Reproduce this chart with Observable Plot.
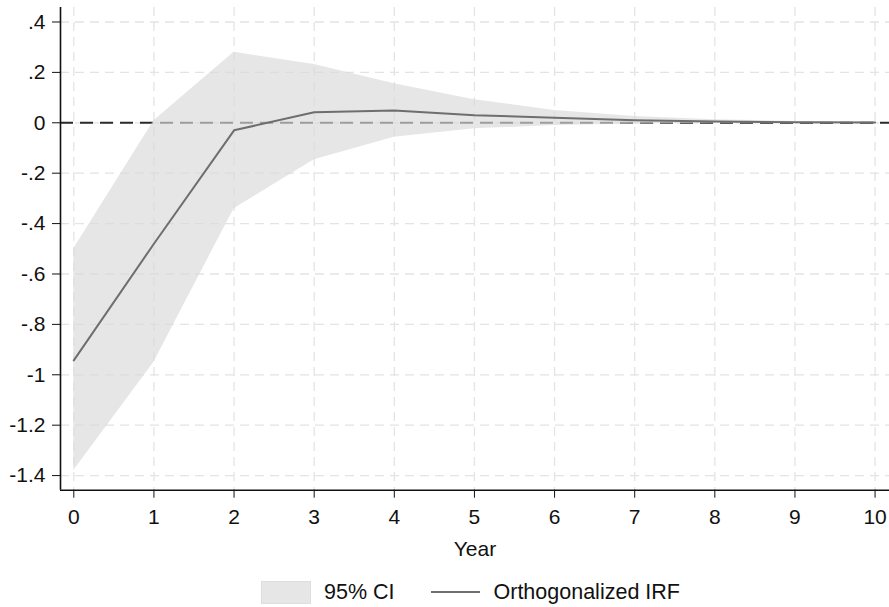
<!DOCTYPE html>
<html>
<head>
<meta charset="utf-8">
<script src="https://cdn.jsdelivr.net/npm/d3@7"></script>
<script src="https://cdn.jsdelivr.net/npm/@observablehq/plot@0.6"></script>
<style>
  html, body { margin: 0; padding: 0; background: #fff; }
  body { width: 889px; height: 607px; overflow: hidden; font-family: "Liberation Sans", Arial, sans-serif; }
  #legend { display: flex; align-items: center; justify-content: flex-start; height: 38px; margin-top: 8px; font-size: 21.5px; color: #111; padding-left: 261px; }
  .sw { width: 50px; height: 23px; background: #e6e6e6; border: 1px solid #dedede; box-sizing: border-box; margin-right: 13px; }
  .ln { width: 49px; height: 0; border-top: 2px solid #707070; margin-left: 36px; margin-right: 14px; }
</style>
</head>
<body>
<div id="chart"></div>
<div id="legend">
  <div class="sw"></div><span>95% CI</span>
  <div class="ln"></div><span>Orthogonalized IRF</span>
</div>
<script>
const years = [0, 1, 2, 3, 4, 5, 6, 7, 8, 9, 10];
const irf   = [-0.943, -0.48, -0.03, 0.042, 0.049, 0.030, 0.020, 0.010, 0.005, 0.002, 0.001];
const upper = [-0.50, 0.008, 0.28, 0.231, 0.155, 0.091, 0.049, 0.025, 0.012, 0.005, 0.002];
const lower = [-1.38, -0.95, -0.341, -0.147, -0.057, -0.024, -0.011, -0.005, -0.002, -0.001, 0.0];
const xTicks = [0, 1, 2, 3, 4, 5, 6, 7, 8, 9, 10];
const yTicks = [0.4, 0.2, 0, -0.2, -0.4, -0.6, -0.8, -1, -1.2, -1.4];
const yTickLabels = [".4", ".2", "0", "-.2", "-.4", "-.6", "-.8", "-1", "-1.2", "-1.4"];
const xDomain = [-0.166, 10.18];
const yDomain = [-1.458, 0.4575];

const data = years.map((t, i) => ({t, irf: irf[i], lo: lower[i], hi: upper[i]}));

const chart = Plot.plot({
  width: 889,
  height: 565,
  marginLeft: 60,
  marginRight: 0,
  marginTop: 7,
  marginBottom: 75.3,
  style: {fontFamily: "'Liberation Sans', Arial, sans-serif", fontSize: "21px", color: "#111", background: "#fff"},
  x: {domain: xDomain},
  y: {domain: yDomain},
  marks: [
    Plot.gridX(xTicks, {stroke: "#e4e4e4", strokeOpacity: 1, strokeWidth: 1.3, strokeDasharray: "9,6"}),
    Plot.gridY(yTicks, {stroke: "#e4e4e4", strokeOpacity: 1, strokeWidth: 1.3, strokeDasharray: "9,6"}),
    Plot.ruleY([0], {stroke: "#2a2a2a", strokeWidth: 2, strokeDasharray: "13,7"}),
    Plot.areaY(data, {x: "t", y1: "lo", y2: "hi", fill: "#d9d9d9", fillOpacity: 0.66, curve: "linear"}),
    Plot.line(data, {x: "t", y: "irf", stroke: "#6e6e6e", strokeWidth: 2}),
    Plot.ruleX([xDomain[0]], {stroke: "#111", strokeWidth: 1.6}),
    Plot.ruleY([yDomain[0]], {stroke: "#111", strokeWidth: 1.6}),
    Plot.axisY(yTicks, {tickSize: 8, tickPadding: 7, tickFormat: (d) => yTickLabels[yTicks.indexOf(d)], label: null, stroke: "#111", fill: "#111"}),
    Plot.axisX(xTicks, {tickSize: 8, tickPadding: 11, tickFormat: (d) => String(d), label: "Year", labelAnchor: "center", labelArrow: "none", labelOffset: 66, stroke: "#111", fill: "#111"})
  ]
});
document.getElementById("chart").appendChild(chart);
</script>
</body>
</html>
